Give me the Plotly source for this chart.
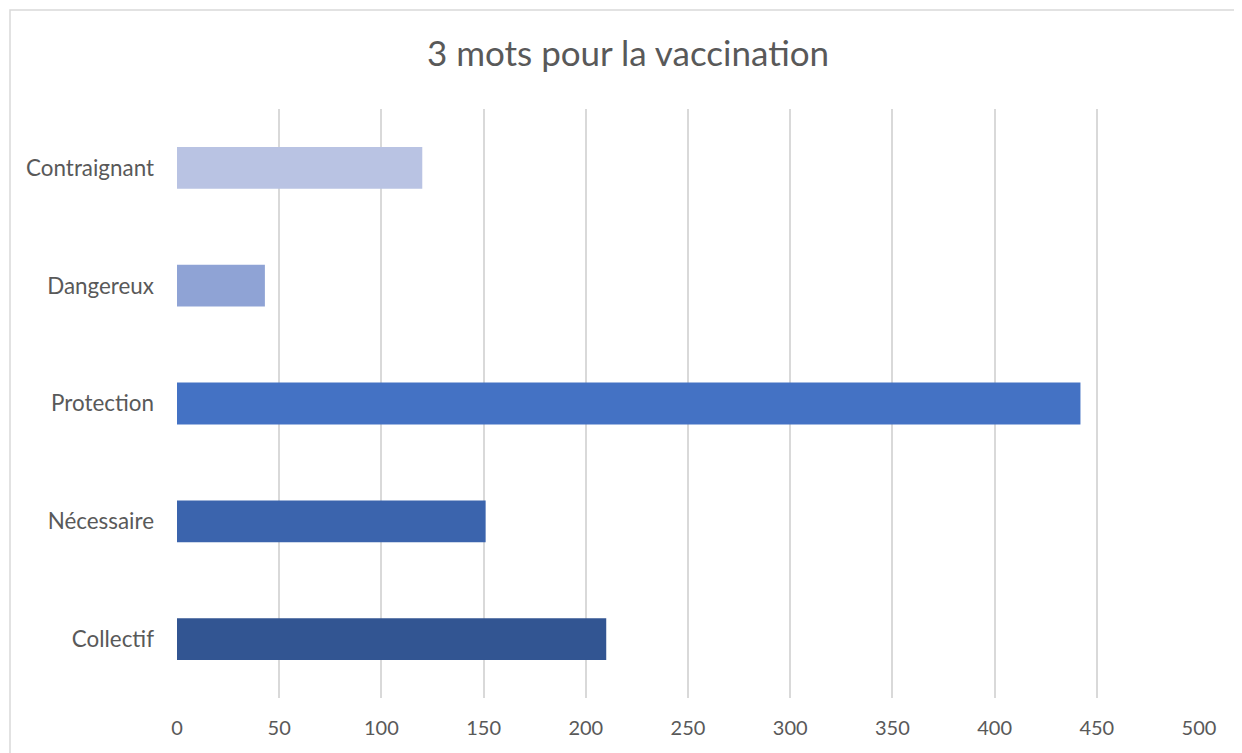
import plotly.graph_objects as go

categories = ["Collectif", "Nécessaire", "Protection", "Dangereux", "Contraignant"]
values = [210, 151, 442, 43, 120]
colors = ["#325592", "#3B64AD", "#4472C4", "#8FA3D5", "#B9C3E3"]
x_ticks = [0, 50, 100, 150, 200, 250, 300, 350, 400, 450, 500]

FONT = "Lato, 'Open Sans', sans-serif"

# page is offset by the 8px body margin
W, H = 1234, 745
L, R, T, B = 169, 43, 101, 55
PW, PH = W - L - R, H - T - B

fig = go.Figure(go.Bar(
    y=categories, x=values, orientation="h",
    marker=dict(color=colors, line=dict(width=0)),
    hoverinfo="x+y",
))

fig.update_layout(
    width=W, height=H,
    paper_bgcolor="white", plot_bgcolor="white",
    margin=dict(l=L, r=R, t=T, b=B),
    bargap=0.645,
    showlegend=False,
    title=dict(text="3 mots pour la vaccination", x=(628 - 8) / W, xanchor="center",
               y=1 - 46 / H, yanchor="middle", xref="container", yref="container",
               font=dict(family=FONT, size=35, color="#595959")),
    font=dict(family=FONT, color="#595959"),
    xaxis=dict(range=[0, 500], tickvals=x_ticks, showgrid=True,
               gridcolor="#D9D9D9", gridwidth=2, zeroline=False, showline=False,
               tickfont=dict(size=20, color="#595959"), ticklabelstandoff=16,
               fixedrange=True),
    yaxis=dict(type="category", range=[-0.5, 4.5], showgrid=False, zeroline=False,
               showline=False, tickfont=dict(size=22.4, color="#595959"),
               ticklabelstandoff=22, fixedrange=True),
    shapes=[dict(type="rect", xref="paper", yref="paper",
                 x0=(2 - L) / PW, x1=(W + 20 - L) / PW,
                 y0=(H - B - (H + 20)) / PH, y1=(H - B - 2) / PH,
                 line=dict(color="#D9D9D9", width=1.5), fillcolor="rgba(0,0,0,0)",
                 layer="below")],
)

fig.write_html("out.html")
